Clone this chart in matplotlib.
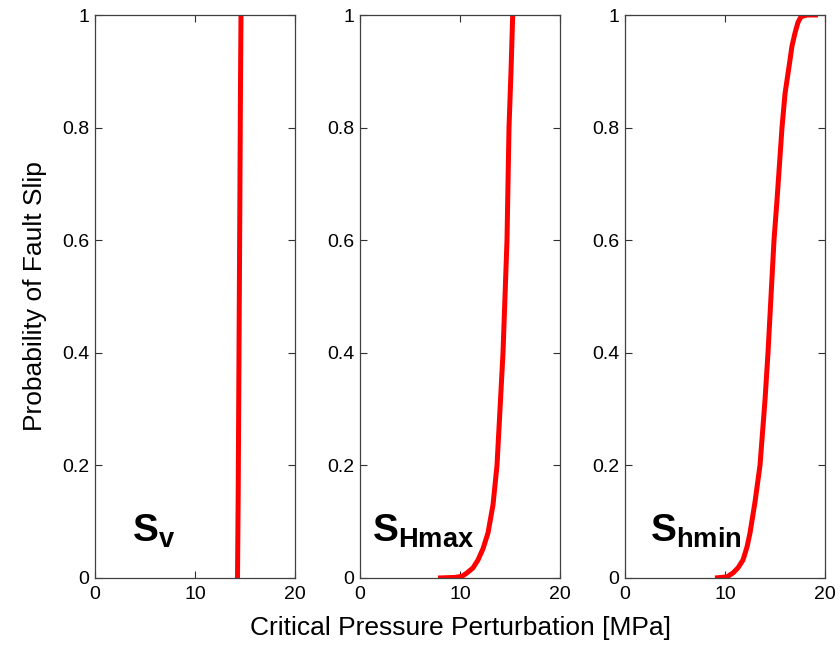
import numpy as np
import matplotlib
matplotlib.use('Agg')
import matplotlib.pyplot as plt

plt.rcParams['font.family'] = ['Liberation Sans', 'DejaVu Sans']
plt.rcParams['mathtext.fontset'] = 'custom'
plt.rcParams['mathtext.rm'] = 'Liberation Sans'
plt.rcParams['mathtext.bf'] = 'Liberation Sans:bold'

# Critical pressure perturbation [MPa] vs probability of fault slip
sv_x = [14.25, 14.32, 14.40, 14.48, 14.55, 14.60]
sv_p = [0.0, 0.15, 0.40, 0.65, 0.88, 1.0]

shmax_x = [7.8, 9.5, 10.2, 10.7, 11.3, 11.8, 12.3, 12.8, 13.3, 13.7, 14.05, 14.3, 14.5,
           14.7, 14.8, 14.9, 15.1, 15.27]
shmax_p = [0.0, 0.001, 0.003, 0.009, 0.018, 0.032, 0.052, 0.08, 0.13, 0.2, 0.316, 0.4, 0.5,
           0.6, 0.7, 0.8, 0.9, 1.0]

shmin_x = [9.0, 10.2, 10.8, 11.3, 11.8, 12.2, 12.5, 13.0, 13.5, 14.0, 14.3, 14.6, 14.9,
           15.2, 15.7, 16.0, 16.4, 16.7, 17.0, 17.3, 17.6, 18.2, 19.3]
shmin_p = [0.0, 0.002, 0.009, 0.018, 0.032, 0.055, 0.08, 0.135, 0.2, 0.316, 0.4, 0.5, 0.6,
           0.671, 0.8, 0.86, 0.908, 0.945, 0.968, 0.987, 0.997, 1.0, 1.0]

labels = [r'$\mathbf{S_v}$', r'$\mathbf{S_{Hmax}}$', r'$\mathbf{S_{hmin}}$']
label_x = [3.7, 1.2, 2.5]

series = [(sv_x, sv_p), (shmax_x, shmax_p), (shmin_x, shmin_p)]

fig = plt.figure(figsize=(8.4, 6.45), dpi=100)
W, H = 840, 645
lefts = [95, 360, 625]
for i, (xs, ps) in enumerate(series):
    ax = fig.add_axes([lefts[i] / W, (H - 578) / H, 200 / W, (578 - 15) / H])
    ax.plot(xs, ps, color='#ff0000', lw=3.6, solid_capstyle='butt', solid_joinstyle='round')
    ax.set_xlim(0, 20)
    ax.set_ylim(0, 1)
    ax.set_xticks([0, 10, 20])
    ax.set_yticks([0, 0.2, 0.4, 0.6, 0.8, 1])
    ax.set_yticklabels(['0', '0.2', '0.4', '0.6', '0.8', '1'])
    ax.tick_params(direction='in', top=True, right=True, length=5, width=0.8,
                   labelsize=14, color='#303030')
    ax.tick_params(axis='x', pad=6)
    ax.tick_params(axis='y', pad=4)
    for sp in ax.spines.values():
        sp.set_color('#404040')
        sp.set_linewidth(0.9)
    ax.text(label_x[i], 0.065, labels[i], fontsize=28, ha='left', va='baseline')

fig.text(460 / W, 1 - 628 / H, 'Critical Pressure Perturbation [MPa]', fontsize=19,
         ha='center', va='center')
fig.text(35 / W, 1 - 296 / H, 'Probability of Fault Slip', fontsize=19,
         ha='center', va='center', rotation=90)

fig.savefig('out.png', dpi=100)
